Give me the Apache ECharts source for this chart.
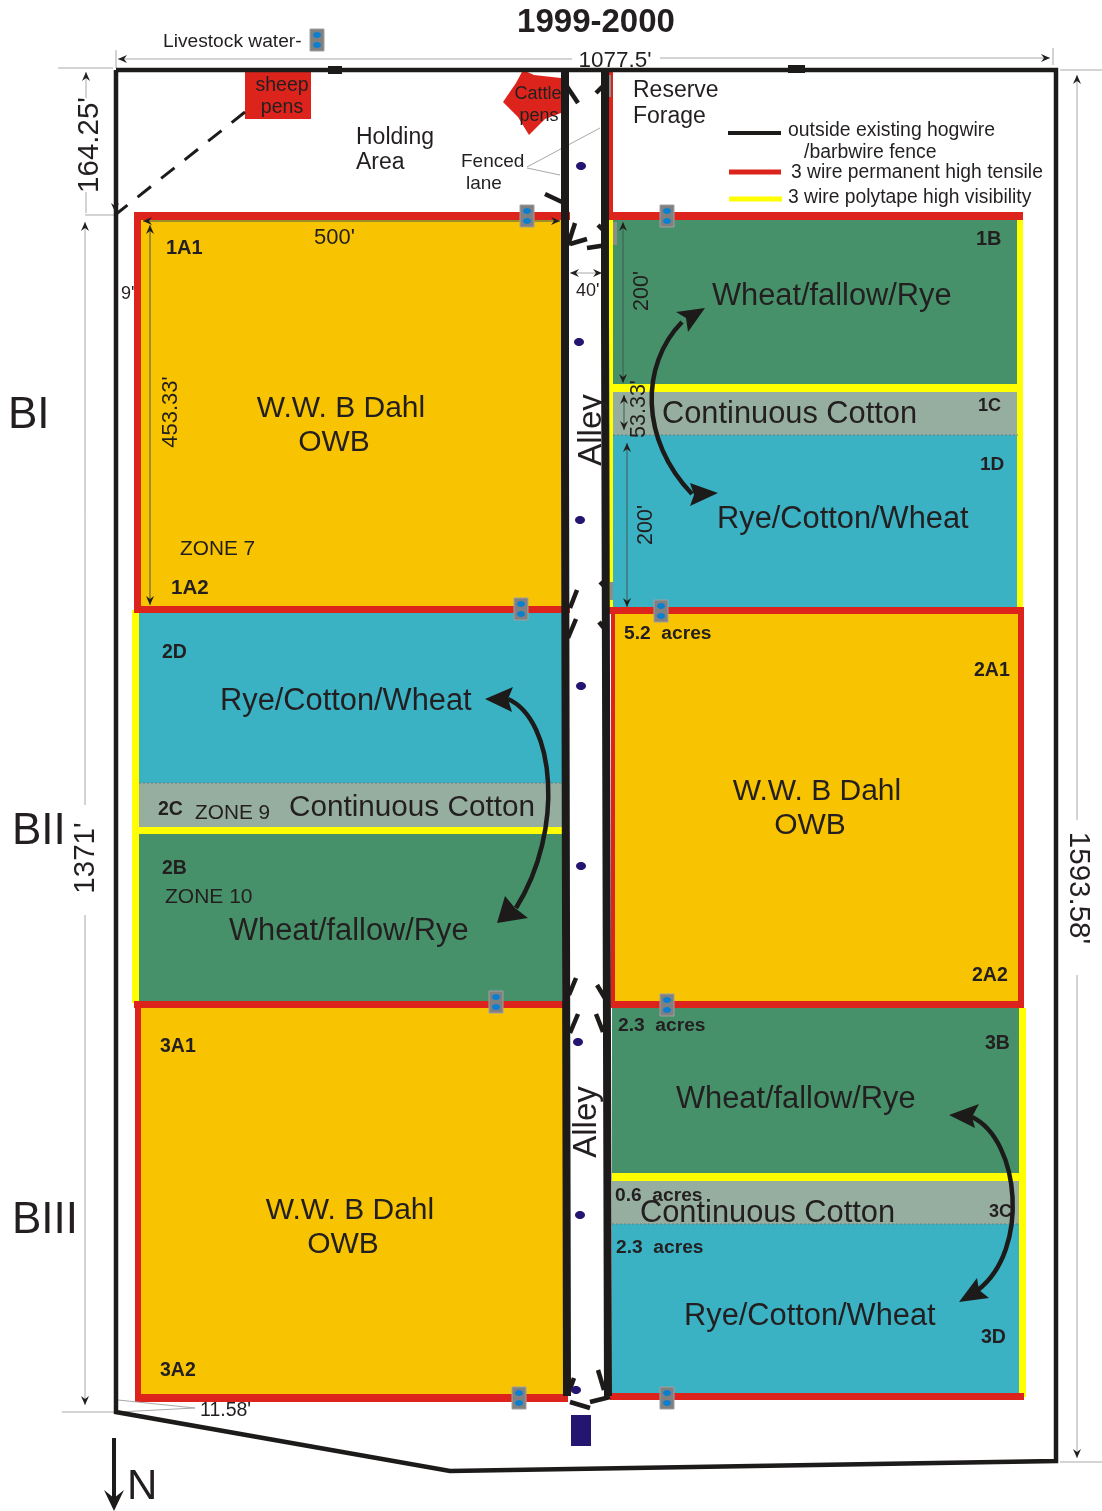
<!DOCTYPE html>
<html><head><meta charset="utf-8">
<style>html,body{margin:0;padding:0;background:#fff}#c{width:1102px;height:1511px}</style>
<script src="https://cdn.jsdelivr.net/npm/echarts@6/dist/echarts.min.js"></script>
</head><body><div id="c"></div>
<script>
// plan coordinates on the site map: [x0,y0,x1,y1]
const orangePlots=[[141,220,562,607],[614,614,1019,1002],[141,1008,564,1395]];
const greenPlots=[[613,220,1018,385],[139,834,562,1002],[612,1008,1019,1174]];
const bluePlots=[[613,435,1018,608],[139,613,562,784],[612,1224,1020,1394]];
const grayPlots=[[613,392,1018,435],[139,783,562,827],[612,1181,1020,1224]];
const redRects=[[134,212,570,220],[134,212,141,613],[134,606,570,613],[609,212,1023,220],[609,70,613,216],
 [609,607,1024,614],[611,607,615,1008],[1018,607,1024,1008],[611,1001,1024,1008],
 [134,1001,566,1008],[135,1001,141,1401],[135,1394,568,1402],[610,1393,1024,1400],[245,72,311,119]];
const yellowRects=[[1017,216,1023,607],[613,384,1023,392],[609,220,613,607],[132,610,139,1003],[139,827,562,834],
 [612,1173,1020,1181],[1019,1008,1026,1397]];
const darkBars=[[328,66,342,74],[788,65,805,73]];
const navyBars=[[571,1415,591,1446]];
const grayBars=[[605,75,611,97],[610,582,613,600],[613,222,617,245]];
const cattlePen=[[[523,70],[534,75],[561,78],[561,113],[545,119],[529,135],[518,117],[503,102],[516,83]]];
const outerFence=[[[116,70],[1056,70],[1056,1461],[450,1471],[116,1412],[116,70]]];
const alleyFences=[[[565,70],[565,450],[567,1396]],[[605,70],[605,320],[608,1396]]];
const gateStubs=[[[566,85],[578,103]],[[596,93],[604,85]],[[545,194],[562,202]],[[575,223],[568,245]],[[570,244],[587,239]],
 [[587,248],[607,245]],[[598,225],[606,233]],[[577,590],[570,608]],[[600,582],[608,590]],[[576,619],[568,638]],[[599,622],[608,633]],
 [[576,978],[569,995]],[[597,985],[606,1000]],[[578,1014],[570,1033]],[[596,1014],[603,1032]],[[574,1378],[569,1392]],
 [[570,1402],[590,1408]],[[590,1402],[610,1397]],[[598,1370],[604,1390]]];
const dashedLane=[[[245,112],[115,215]]];
const dimLines=[[[118,59],[572,59]],[[660,58],[1050,58]],[[116,50],[116,68]],[[1053,48],[1053,65]],[[58,68],[113,68]],
 [[85,215],[114,215]],[[62,1412],[114,1412]],[[1060,70],[1102,70]],[[1060,1462],[1102,1462]],
 [[86,72],[86,98]],[[86,192],[86,213]],[[1077,75],[1077,820]],[[1077,975],[1077,1458]],[[85,222],[85,805]],[[85,915],[85,1405]],
 [[570,273],[602,273]],[[527,167],[600,128]],[[527,168],[560,175]],[[118,1400],[195,1408],[118,1412]]];
const plotDims=[[[143,221],[560,221]],[[150,225],[150,605]],[[623,222],[623,383]],[[624,395],[624,430]],[[627,443],[627,607]]];
const dimHeads=[[118,59,-1,0],[1050,58,1,0],[86,72,0,-1],[1077,75,0,-1],[1077,1458,0,1],[85,222,0,-1],[85,1405,0,1],[115,212,0,1],
 [143,221,-1,0],[560,221,1,0],[150,225,0,-1],[150,605,0,1],[623,222,0,-1],[623,383,0,1],[624,395,0,-1],[624,430,0,1],[627,443,0,-1],[627,607,0,1],
 [570,273,-1,0],[602,273,1,0]];
const plotEdges=[[[613,435],[1018,435]],[[139,783],[562,783]],[[612,1224],[1020,1224]]];
const rotationCurves=[[682,322,640,365,640,440,692,494],[508,699,555,720,565,830,516,908],[972,1117,1020,1140,1030,1250,978,1290]];
const arrowHeads=[[[705,308],[676,312],[686,318],[688,332]],[[718,493],[690,483],[694,495],[690,506]],[[485,699],[513,687],[508,699],[512,712]],
 [[497,923],[505,896],[515,908],[528,918]],[[949,1115],[979,1104],[972,1117],[975,1128]],[[959,1302],[977,1278],[979,1290],[989,1298]],[[114,1511],[104,1490],[114,1498],[124,1490]]];
const northLine=[[[114,1438],[114,1500]]];
const waterTroughs=[[317,40],[527,216],[667,216],[661,611],[521,609],[667,1005],[496,1002],[519,1398],[667,1398]];
const alleyDots=[[581,166],[579,342],[580,520],[581,686],[581,866],[578,1042],[580,1215],[576,1390]];
const legendLines=[[[728,133],[781,133],'#1d1a1a',4],[[729,172],[781,172],'#dc241c',5],[[729,199],[782,199],'#ffff00',5]];
// text, x, y, font size, bold, rotation degrees, anchor
const labels=[
 ['1999-2000',596,21,33,1,0,'center'],['Livestock water-',163,40,19.2,0,0,'left'],["1077.5'",615,59,22.5,0,0,'center'],
 ['sheep',282,84,19.5,0,0,'center'],['pens',282,106,19.5,0,0,'center'],['Cattle',538,93,18,0,0,'center'],['pens',539,115,18,0,0,'center'],
 ['Holding',356,136,23,0,0,'left'],['Area',356,161,23,0,0,'left'],['Fenced',461,160,19,0,0,'left'],['lane',466,182,19,0,0,'left'],
 ['Reserve',633,89,23,0,0,'left'],['Forage',633,115,23,0,0,'left'],
 ['outside existing hogwire',788,129,19.4,0,0,'left'],['/barbwire fence',804,151,19.4,0,0,'left'],
 ['3 wire permanent high tensile',791,171,19.3,0,0,'left'],['3 wire polytape high visibility',788,196,19.3,0,0,'left'],
 ['BI',8,413,44,0,0,'left'],['BII',12,829,44,0,0,'left'],['BIII',12,1218,44,0,0,'left'],['N',127,1484,42,0,0,'left'],
 ["164.25'",88,145,29.5,0,90,'center'],["1371'",84,858,29.5,0,90,'center'],["1593.58'",1080,888,29.5,0,-90,'center'],
 ['Alley',590,430,33,0,90,'center'],['Alley',585,1122,33,0,90,'center'],
 ["453.33'",169,412,22,0,90,'center'],["200'",641,291,21.5,0,90,'center'],["53.33'",638,409,21.5,0,90,'center'],["200'",645,525,21.5,0,90,'center'],
 ["500'",314,236,22,0,0,'left'],["9'",121,293,18,0,0,'left'],["40'",576,290,18,0,0,'left'],["11.58'",200,1409,19.5,0,0,'left'],
 ['W.W. B Dahl',341,407,30,0,0,'center'],['OWB',334,441,30,0,0,'center'],['W.W. B Dahl',817,790,30,0,0,'center'],['OWB',810,824,30,0,0,'center'],
 ['W.W. B Dahl',350,1209,30,0,0,'center'],['OWB',343,1243,30,0,0,'center'],
 ['Wheat/fallow/Rye',712,294,30.8,0,0,'left'],['Continuous Cotton',662,412,30.8,0,0,'left'],['Rye/Cotton/Wheat',717,517,30.8,0,0,'left'],
 ['Rye/Cotton/Wheat',220,699,30.8,0,0,'left'],['Continuous Cotton',289,806,29.7,0,0,'left'],['Wheat/fallow/Rye',229,929,30.8,0,0,'left'],
 ['Wheat/fallow/Rye',676,1097,30.8,0,0,'left'],['Continuous Cotton',640,1211,30.8,0,0,'left'],['Rye/Cotton/Wheat',684,1314,30.8,0,0,'left'],
 ['1A1',166,247,20,1,0,'left'],['1A2',171,587,20.5,1,0,'left'],['ZONE 7',180,548,20.8,0,0,'left'],['1B',976,238,20,1,0,'left'],['1C',978,405,18,1,0,'left'],['1D',980,463,19,1,0,'left'],
 ['2D',162,651,19.5,1,0,'left'],['2C',158,808,19.5,1,0,'left'],['ZONE 9',195,812,20.8,0,0,'left'],['2B',162,867,19.5,1,0,'left'],['ZONE 10',165,896,21,0,0,'left'],
 ['3A1',160,1045,19.5,1,0,'left'],['3A2',160,1369,19.5,1,0,'left'],['5.2  acres',624,632,19.2,1,0,'left'],['2A1',974,669,19.5,1,0,'left'],['2A2',972,974,19.5,1,0,'left'],
 ['2.3  acres',618,1024,19.2,1,0,'left'],['3B',985,1042,19.5,1,0,'left'],['0.6  acres',615,1194,19.2,1,0,'left'],['3C',989,1211,18,1,0,'left'],['2.3  acres',616,1246,19.2,1,0,'left'],['3D',981,1336,19.5,1,0,'left']
];

const ink='#231f20', FF='"Liberation Sans",Arial,sans-serif';
function custom(arr,draw){
  return {type:'custom',coordinateSystem:'cartesian2d',silent:true,clip:false,animation:false,
    data:arr.map((_,i)=>[i,i]),encode:{x:0,y:1},
    renderItem:(p,api)=>draw(arr[p.dataIndex],api,p.dataIndex)};
}
function rects(arr,fill,stroke){
  return custom(arr,(r,api)=>{
    const a=api.coord([r[0],r[1]]),b=api.coord([r[2],r[3]]);
    return {type:'rect',shape:{x:a[0],y:a[1],width:b[0]-a[0],height:b[1]-a[1]},style:{fill,stroke:stroke||null}};
  });
}
function lines(arr,color,width,dash,cap){
  return custom(arr,(seg,api)=>({type:'polyline',shape:{points:seg.map(q=>api.coord(q))},
    style:{fill:null,stroke:color,lineWidth:width,lineDash:dash||null,lineCap:cap||'butt',lineJoin:'miter'}}));
}
function polys(arr,fill){
  return custom(arr,(pts,api)=>({type:'polygon',shape:{points:pts.map(q=>api.coord(q))},style:{fill}}));
}
const series=[
  rects(orangePlots,'#f8c300'),rects(greenPlots,'#46916a'),rects(bluePlots,'#3ab2c4'),rects(grayPlots,'#96ae9f'),
  rects(yellowRects,'#ffff00'),rects(redRects,'#dc241c'),polys(cattlePen,'#dc241c'),rects(grayBars,'#8c8c8c'),
  lines(plotEdges,'#6d7f7c',1,[2,2]),
  lines(dimLines,'#a8a8a8',1),lines(plotDims,'#3f5a50',1),
  custom(dimHeads,(h,api)=>{
    const t=api.coord([h[0],h[1]]),dx=h[2],dy=h[3];
    const pts=[[t[0],t[1]],[t[0]-dx*9-dy*4,t[1]-dy*9-dx*4],[t[0]-dx*6,t[1]-dy*6],[t[0]-dx*9+dy*4,t[1]-dy*9+dx*4]];
    return {type:'polygon',shape:{points:pts},style:{fill:'#231f20'}};
  }),
  lines(outerFence,'#1d1a1a',4.5),lines(alleyFences,'#1d1a1a',8),lines(gateStubs,'#1d1a1a',4.5),lines(dashedLane,'#1d1a1a',3,[17,13]),
  lines(northLine,'#1d1a1a',4),
  rects(darkBars,'#1d1a1a'),rects(navyBars,'#241670'),
  custom(legendLines,(l,api)=>({type:'line',shape:{x1:api.coord(l[0])[0],y1:api.coord(l[0])[1],x2:api.coord(l[1])[0],y2:api.coord(l[1])[1]},style:{stroke:l[2],lineWidth:l[3]}})),
  custom(alleyDots,(d,api)=>{const c=api.coord(d);return {type:'ellipse',shape:{cx:c[0],cy:c[1],rx:5,ry:4},style:{fill:'#241670'}};}),
  custom(waterTroughs,(w,api)=>{const c=api.coord(w);return {type:'group',children:[
    {type:'rect',shape:{x:c[0]-7,y:c[1]-11,width:14,height:22},style:{fill:'#808080',stroke:'#a0a0a0',lineWidth:1}},
    {type:'ellipse',shape:{cx:c[0],cy:c[1]-5,rx:4,ry:3},style:{fill:'#0a7fd0'}},
    {type:'ellipse',shape:{cx:c[0],cy:c[1]+5,rx:4,ry:3},style:{fill:'#0a7fd0'}}]};}),
  custom(labels,(t,api)=>{
    const drop=t[3]*0.07,rad=t[5]*Math.PI/180;
    const c=api.coord([t[1]+(t[5]?Math.sign(t[5])*drop:0),t[2]+(t[5]?0:drop)]);
    return {type:'text',x:c[0],y:c[1],rotation:rad,
    style:{text:t[0],fill:ink,fontFamily:FF,fontSize:t[3],fontWeight:t[4]?'bold':'normal',align:t[6],verticalAlign:'middle'}};}),
  custom(rotationCurves,(b,api)=>{const p=[0,2,4,6].map(i=>api.coord([b[i],b[i+1]]));
    return {type:'bezierCurve',shape:{x1:p[0][0],y1:p[0][1],cpx1:p[1][0],cpy1:p[1][1],cpx2:p[2][0],cpy2:p[2][1],x2:p[3][0],y2:p[3][1]},
      style:{fill:null,stroke:'#1d1a1a',lineWidth:4.5}};}),
  polys(arrowHeads,'#1d1a1a')
];
const chart=echarts.init(document.getElementById('c'),null,{renderer:'canvas'});
chart.setOption({animation:false,backgroundColor:'#fff',
  grid:{left:0,right:0,top:0,bottom:0},
  xAxis:{type:'value',min:0,max:1102,show:false},
  yAxis:{type:'value',min:0,max:1511,inverse:true,show:false},
  series});
</script></body></html>
